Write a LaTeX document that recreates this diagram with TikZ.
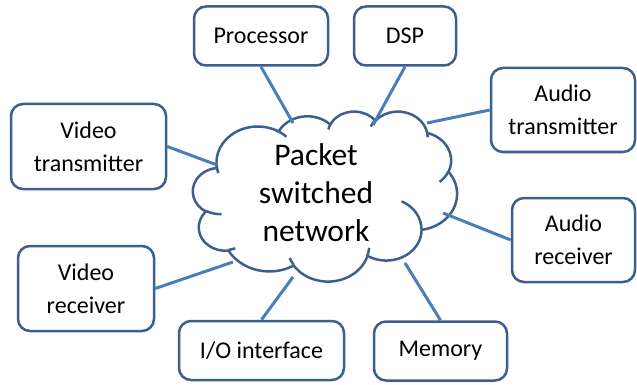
\documentclass[tikz,border=0pt]{standalone}
\usepackage{fontspec}
\setmainfont{Carlito}
\usepackage{tikz}
\definecolor{boxline}{HTML}{3D5F8F}
\definecolor{linkline}{HTML}{4A7EBB}

\begin{document}
\begin{tikzpicture}[x=1pt,y=-1pt,
  unit/.style={draw=boxline,line width=2.5pt,rounded corners=12pt,fill=white,
    align=center,inner sep=0pt,font=\fontsize{24}{33}\selectfont},
  link/.style={draw=linkline,line width=3pt},
  cloudline/.style={draw=boxline,line width=2.5pt},
  puff/.style n args={4}{x radius=#1,y radius=#2,
    start angle={atan2(#1*sin(#3),#2*cos(#3))},
    delta angle={mod(atan2(#1*sin(#3+#4),#2*cos(#3+#4))-atan2(#1*sin(#3),#2*cos(#3))+720,360)}}]
\useasboundingbox (0,0) rectangle (637,385);
% cloud outline and inner hooks
\begin{scope}[shift={(193,111)},x=0.61111pt,y=-0.39352pt]
\draw [cloudline] (39.00,143.70)
  \foreach \rx/\ry/\st/\sw in {67.53/91.90/-190.4875/123.7805,
    53.33/72.67/-144.1024/89.9452, 43.65/59.45/-145.8079/99.7230,
    48.57/65.95/-130.9861/117.2417, 53.33/72.73/-78.7089/109.0269,
    67.75/92.20/-46.2673/130.2690, 57.85/78.67/0.6250/114.0333,
    67.52/92.15/22.4516/115.1726, 77.20/105.43/66.2426/75.7110,
    43.60/59.18/-274.9421/146.7356, 43.45/59.45/-246.8285/152.5189}
  {arc[puff={\rx}{\ry}{\st}{\sw}]} -- cycle;
\foreach \px/\py/\rx/\ry/\st/\sw in {46.93/261.77/43.45/59.45/86.7420/26.4295,
    69.28/348.99/43.60/59.18/73.6105/11.4475,
    164.78/390.90/67.52/92.15/137.6242/14.0811,
    288.27/347.51/67.52/92.15/6.4533/15.9984,
    341.29/229.54/57.85/78.67/-70.2924/70.9174,
    417.98/153.54/53.33/72.73/30.3180/27.7515,
    383.24/54.26/48.57/65.95/-13.7443/14.8589,
    290.78/39.52/48.57/65.95/-149.1815/18.1954,
    221.41/47.20/43.65/59.45/-163.4943/17.6864,
    140.00/51.92/67.53/91.90/-66.7070/12.3194,
    41.27/157.89/67.53/91.90/157.6544/11.8582}
  \draw [cloudline] (\px,\py) arc[puff={\rx}{\ry}{\st}{\sw}];
\end{scope}
\node [align=center,inner sep=0pt,font=\fontsize{31.5}{38}\selectfont] (net) at (316,193)
  {Packet\\switched\\network};
% units
\node [unit,minimum width=134pt,minimum height=59pt] (proc) at (261,36) {Processor};
\node [unit,minimum width=102pt,minimum height=59pt] (dsp) at (405,36) {DSP};
\node [unit,minimum width=144pt,minimum height=84pt] (atx) at (563,110) {Audio\\transmitter};
\node [unit,minimum width=155pt,minimum height=85pt] (vtx) at (88.5,146.5) {Video\\transmitter};
\node [unit,minimum width=123pt,minimum height=84pt] (arx) at (573.5,240) {Audio\\receiver};
\node [unit,minimum width=136pt,minimum height=85pt] (vrx) at (86,288.5) {Video\\receiver};
\node [unit,minimum width=165pt,minimum height=59pt] (io) at (261.5,350.5) {I/O interface};
\node [unit,minimum width=133pt,minimum height=59pt] (mem) at (440.5,351) {Memory};
% link ends on the cloud
\coordinate (net-proc) at (293,123);
\coordinate (net-dsp) at (373,125);
\coordinate (net-atx) at (427,123);
\coordinate (net-vtx) at (217,165);
\coordinate (net-vrx) at (233,262);
\coordinate (net-arx) at (443,213);
\coordinate (net-io) at (293,277);
\coordinate (net-mem) at (405,263);
% links
\draw [link] (proc.south) -- (net-proc);
\draw [link] (dsp.south) -- (net-dsp);
\draw [link] (atx.west) -- (net-atx);
\draw [link] (vtx.east) -- (net-vtx);
\draw [link] (vrx.east) -- (net-vrx);
\draw [link] (arx.west) -- (net-arx);
\draw [link] (io.north) -- (net-io);
\draw [link] (mem.north) -- (net-mem);
\end{tikzpicture}
\end{document}
